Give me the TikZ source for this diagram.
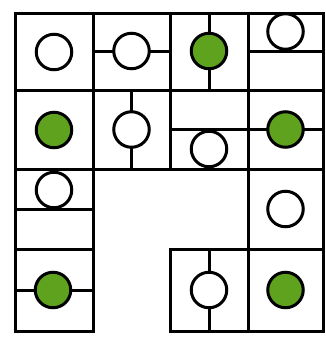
\documentclass[tikz,border=0pt]{standalone}
\usepackage{xcolor}
\usetikzlibrary{calc}

\definecolor{leaf}{HTML}{5FA21E}

\begin{document}
\begin{tikzpicture}[
  x=1pt, y=-1pt,
  line width=3pt,
  ring/.style={draw, circle, fill=white, minimum size=35.5pt, inner sep=0pt},
  dot/.style={ring, fill=leaf},
]
\useasboundingbox (0,0) rectangle (326,338);

% grid corners: columns a..e, rows 1..5
\foreach \c/\x in {a/15,b/93,c/170,d/248,e/323}
  \foreach \r/\y in {1/13,2/90,3/169,4/249,5/331}
    \coordinate (\c\r) at (\x,\y);

% outline of the cells
\draw (a1) rectangle (e3);
\draw (a2) -- (e2);
\draw (b1) -- (b3);
\draw (c1) -- (c3);
\draw (d1) -- (d3);
\draw (a3) rectangle (b5);
\draw (a4) -- (b4);
\draw (d3) rectangle (e5);
\draw (d4) -- (e4);
\draw (c4) rectangle (d5);

% split lines inside cells
\draw ($(d1)!.5!(d2)$) -- ($(e1)!.5!(e2)$);
\draw ($(c2)!.5!(c3)$) -- ($(e2)!.5!(e3)$);
\draw ($(a3)!.5!(a4)$) -- ($(b3)!.5!(b4)$);
\draw ($(b1)!.5!(b2)$) -- ($(c1)!.5!(c2)$);
\draw ($(a4)!.5!(a5)$) -- ($(b4)!.5!(b5)$);
\draw ($(c1)!.5!(d1)$) -- ($(c2)!.5!(d2)$);
\draw ($(b2)!.5!(c2)$) -- ($(b3)!.5!(c3)$);
\draw ($(c4)!.5!(d4)$) -- ($(c5)!.5!(d5)$);

% top block
\node[ring] (w11) at (54,52) {};
\node[ring] (w12) at (131.5,51) {};
\node[dot]  (g13) at (209,51) {};
\node[ring] (w14) at (285.5,31.5) {};

\node[dot]  (g21) at (54,130) {};
\node[ring] (w22) at (131.5,129.5) {};
\node[ring] (w23) at (209,149) {};
\node[dot]  (g24) at (285.5,129.5) {};

% lower part
\node[ring] (w31) at (54,190) {};
\node[ring] (w34) at (285.5,209) {};

\node[dot]  (g41) at (53,290) {};
\node[ring] (w43) at (209,290) {};
\node[dot]  (g44) at (285.5,290) {};

\end{tikzpicture}
\end{document}
